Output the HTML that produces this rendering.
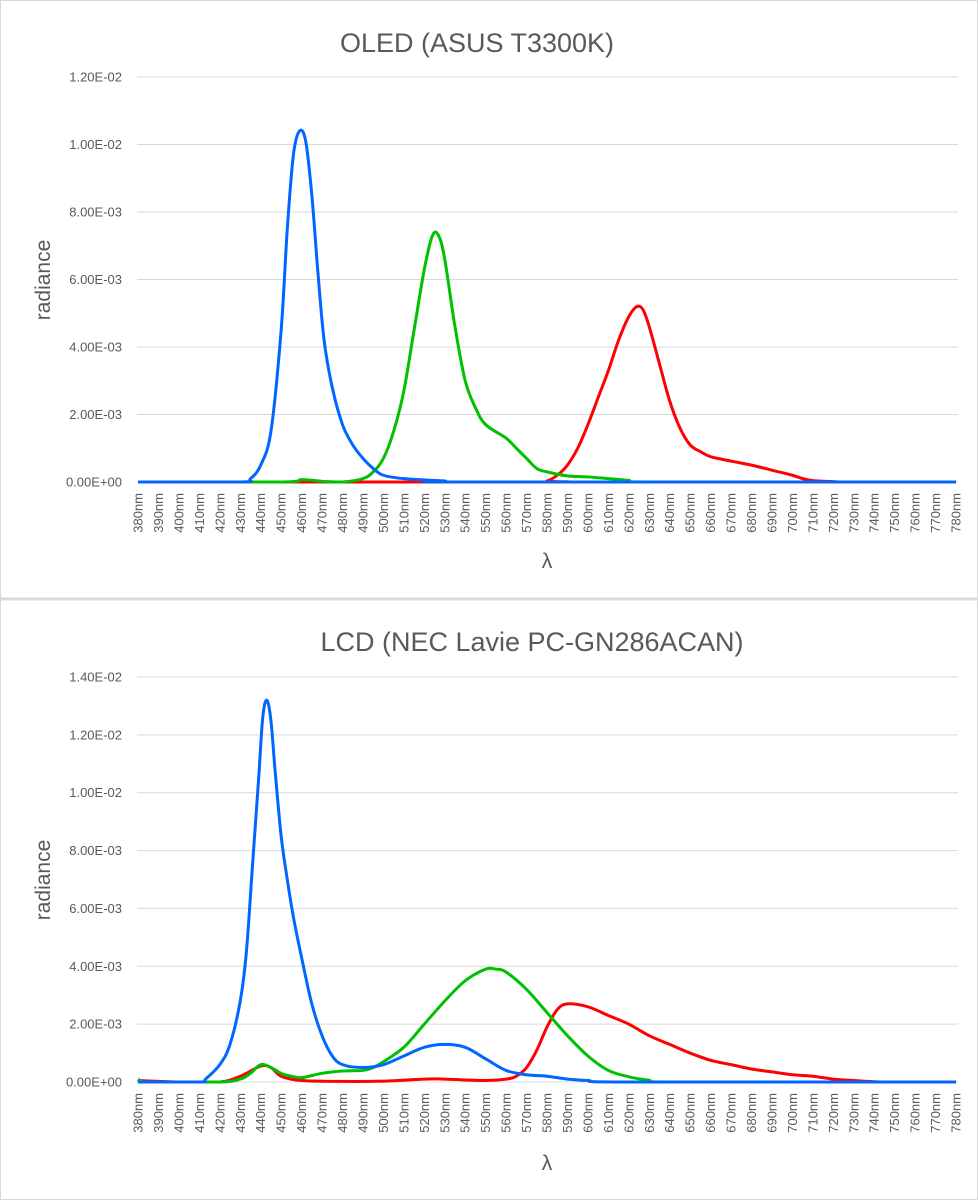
<!DOCTYPE html>
<html><head><meta charset="utf-8"><style>
html,body{margin:0;padding:0;background:#fff;}
svg{display:block;font-family:"Liberation Sans",sans-serif;}
</style></head><body>
<svg id="s" width="978" height="1200" xmlns="http://www.w3.org/2000/svg">
<rect x="0.5" y="0.5" width="977" height="1199" fill="#fff" stroke="#d9d9d9"/>
<line x1="0" y1="599" x2="978" y2="599" stroke="#d9d9d9" stroke-width="3"/>
<text x="477" y="52" font-size="27" fill="#595959" text-anchor="middle">OLED (ASUS T3300K)</text>
<text x="532" y="651" font-size="27" fill="#595959" text-anchor="middle">LCD (NEC Lavie PC-GN286ACAN)</text>
<text x="50" y="280" font-size="21" fill="#595959" text-anchor="middle" transform="rotate(-90 50 280)">radiance</text>
<text x="50" y="880" font-size="21" fill="#595959" text-anchor="middle" transform="rotate(-90 50 880)">radiance</text>
<text x="547" y="568" font-size="21" fill="#595959" text-anchor="middle">λ</text>
<text x="547" y="1170" font-size="21" fill="#595959" text-anchor="middle">λ</text>
<g id="g"></g>
</svg>
<script>
var NS="http://www.w3.org/2000/svg",g=document.getElementById('g');
function el(t,a,txt){var e=document.createElementNS(NS,t);for(var k in a)e.setAttribute(k,a[k]);if(txt!==undefined)e.textContent=txt;g.appendChild(e);return e;}
function X(nm){return 138+(nm-380)*2.045;}
function chart(y0,max,step,labels,series){
  var h=405;
  function Y(v){return y0-v/max*h;}
  for(var i=0;i<labels.length;i++){var yy=Y(i*step);
    el('line',{x1:137,x2:958,y1:yy,y2:yy,stroke:'#d9d9d9','stroke-width':1});
    el('text',{x:122,y:yy+4.5,'font-size':13,fill:'#595959','text-anchor':'end'},labels[i]);}
  for(var nm=380;nm<=780;nm+=10){var x=X(nm)+4.5;
    el('text',{x:x,y:y0+11,'font-size':13,fill:'#595959','text-anchor':'end',transform:'rotate(-90 '+x+' '+(y0+11)+')'},nm+'nm');}
  series.forEach(function(s){
    var p=s.d.map(function(q){return [X(q[0]),Y(q[1])];});
    var d='M'+p[0][0]+','+p[0][1];
    function cy(v){return Math.min(v,y0);}
    for(var i=0;i<p.length-1;i++){var a=p[Math.max(0,i-1)],b=p[i],c=p[i+1],e=p[Math.min(p.length-1,i+2)];
      var x1=Math.max(b[0]+(c[0]-a[0])/6,b[0]),x2=Math.min(c[0]-(e[0]-b[0])/6,c[0]);
      var y1=cy(b[1]+(c[1]-a[1])/6),y2=cy(c[1]-(e[1]-b[1])/6);
      if(b[1]==y0&&c[1]==y0){y1=y0;y2=y0;}
      d+='C'+x1+','+y1+' '+x2+','+y2+' '+c[0]+','+c[1];}
    el('path',{d:d,fill:'none',stroke:s.c,'stroke-width':3,'stroke-linejoin':'round'});
  });
}
chart(482,0.012,0.002,['0.00E+00','2.00E-03','4.00E-03','6.00E-03','8.00E-03','1.00E-02','1.20E-02'],[
{c:'#ff0000',d:[[380,0],[575,0],[580,0.00003],[585,0.0002],[590,0.0005],[595,0.001],[600,0.0017],[605,0.0025],[610,0.0033],[615,0.0042],[620,0.0049],[624,0.0052],[627,0.0051],[630,0.0046],[635,0.0035],[640,0.0024],[645,0.0016],[650,0.0011],[655,0.0009],[660,0.00075],[670,0.00062],[680,0.0005],[690,0.00035],[700,0.0002],[705,0.0001],[710,0.00004],[720,0.00001],[730,0],[780,0]]},
{c:'#00c000',d:[[380,0],[450,0],[460,0.00007],[470,0.00002],[480,0],[490,0.0001],[495,0.0003],[500,0.0007],[505,0.0015],[510,0.0027],[515,0.0045],[520,0.0063],[524,0.0073],[527,0.0073],[530,0.0066],[535,0.0046],[540,0.003],[545,0.0022],[550,0.0017],[560,0.0013],[565,0.001],[570,0.0007],[575,0.0004],[580,0.0003],[590,0.00018],[600,0.00015],[610,0.0001],[620,0.00005],[630,0],[780,0]]},
{c:'#0066ff',d:[[380,0],[430,0],[435,0.0001],[440,0.0005],[445,0.0015],[450,0.0045],[453,0.0075],[456,0.0097],[459,0.0104],[462,0.0101],[465,0.0085],[468,0.0062],[471,0.0042],[475,0.0028],[480,0.0017],[485,0.0011],[490,0.0007],[495,0.0004],[500,0.0002],[510,0.0001],[530,0.00003],[540,0],[780,0]]}
]);
chart(1082,0.014,0.002,['0.00E+00','2.00E-03','4.00E-03','6.00E-03','8.00E-03','1.00E-02','1.20E-02','1.40E-02'],[
{c:'#ff0000',d:[[380,0.00005],[400,0],[420,0],[430,0.0002],[440,0.00055],[445,0.0005],[450,0.0002],[460,0.00005],[480,0.00002],[500,0.00003],[520,0.0001],[530,0.0001],[550,0.00005],[560,0.0001],[565,0.0002],[570,0.0005],[575,0.0011],[580,0.0019],[585,0.0025],[590,0.0027],[600,0.0026],[610,0.0023],[620,0.002],[630,0.0016],[640,0.0013],[650,0.001],[660,0.00075],[670,0.0006],[680,0.00045],[690,0.00035],[700,0.00025],[710,0.0002],[720,0.0001],[730,0.00005],[740,0.00001],[750,0],[780,0]]},
{c:'#00c000',d:[[380,0.0001],[385,0],[420,0],[430,0.0001],[435,0.0003],[440,0.0006],[445,0.0005],[450,0.0003],[455,0.0002],[460,0.00015],[470,0.0003],[480,0.00038],[490,0.0004],[495,0.0005],[500,0.0007],[510,0.0012],[520,0.002],[530,0.0028],[540,0.0035],[550,0.0039],[555,0.0039],[560,0.0038],[570,0.0032],[580,0.0024],[590,0.0016],[600,0.0009],[610,0.0004],[620,0.00018],[630,0.00006],[640,0],[780,0]]},
{c:'#0066ff',d:[[380,0],[410,0],[413,0.0001],[420,0.0006],[425,0.0013],[430,0.0028],[433,0.0045],[436,0.0075],[439,0.0105],[441,0.0126],[443,0.0132],[445,0.0125],[447,0.0108],[450,0.0085],[453,0.007],[456,0.0057],[460,0.0043],[465,0.0027],[470,0.0016],[475,0.0009],[480,0.0006],[490,0.0005],[500,0.0006],[510,0.0009],[520,0.0012],[530,0.0013],[540,0.0012],[550,0.0008],[560,0.0004],[570,0.00025],[580,0.0002],[590,0.0001],[600,0.00005],[620,0],[780,0]]}
]);
</script>
</body></html>
